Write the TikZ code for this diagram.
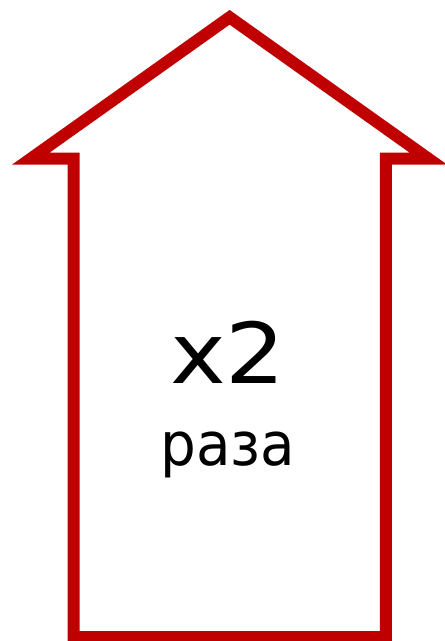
\documentclass[tikz,border=0pt]{standalone}
\usepackage{fontspec}
\setmainfont{DejaVu Sans}
\definecolor{arrowred}{HTML}{C00000}
\begin{document}
\begin{tikzpicture}[x=1pt,y=-1pt,
  outline/.style={draw=arrowred,line width=12pt,line join=miter,miter limit=10},
  bigtext/.style={font=\fontsize{84}{90}\selectfont,anchor=base,inner sep=0pt,xscale=1.12},
  smalltext/.style={font=\fontsize{60}{66}\selectfont,anchor=base,inner sep=0pt,xscale=0.94}]
\useasboundingbox (0,0) rectangle (445,641);
\coordinate (apex) at (229.6,17.3);
\coordinate (lt) at (31,158.5);
\coordinate (ls) at (73.5,158.5);
\coordinate (lb) at (73.5,637);
\coordinate (rb) at (385.8,637);
\coordinate (rs) at (385.8,158.5);
\coordinate (rt) at (428.2,158.5);
\draw[outline] (apex) -- (lt) -- (ls) -- (lb) -- (rb) -- (rs) -- (rt) -- cycle;
\node[bigtext] (x2) at (228,383) {x2};
\node[smalltext] (raza) at (228,465) {раза};
\end{tikzpicture}
\end{document}
